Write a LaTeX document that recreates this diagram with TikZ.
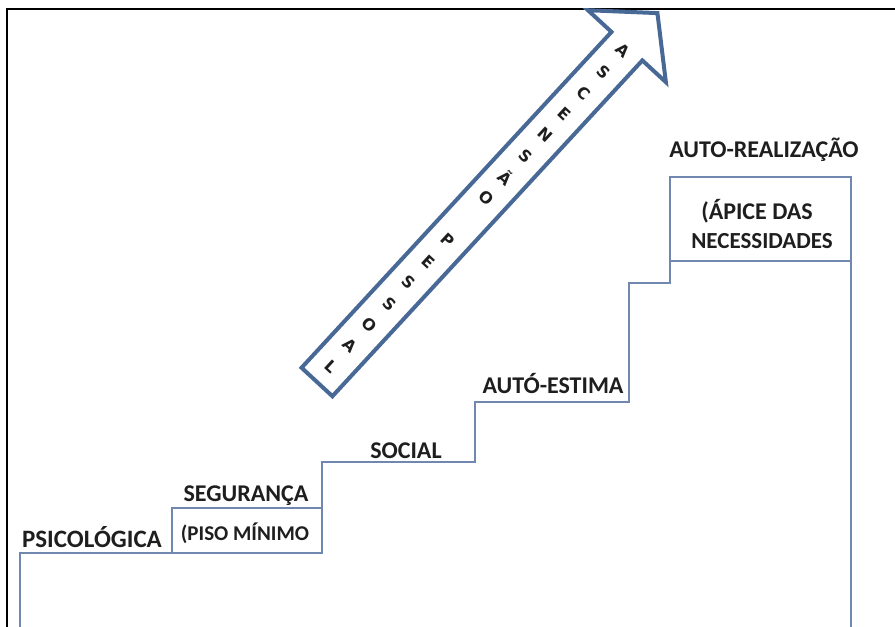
\documentclass[tikz,border=0pt]{standalone}
\usepackage{fontspec}
\setmainfont{Carlito}
\newfontfamily\climbfont{DejaVu Sans}
\usepackage{xcolor}
\definecolor{arrowblue}{RGB}{72,104,150}
\definecolor{stairblue}{RGB}{112,136,176}
\definecolor{labelgray}{RGB}{30,30,30}

\begin{document}
\begin{tikzpicture}[x=1pt, y=-1pt,
  frame/.style={line width=2.6pt, draw=black},
  stair/.style={line width=1.3pt, draw=stairblue},
  lbl/.style={anchor=base, inner sep=0pt, font=\fontsize{#1}{#1}\selectfont\bfseries, text=labelgray},
  lbl/.default=24,
  climb/.style={line width=4pt, draw=arrowblue, fill=white, line join=miter},
  letter/.style={inner sep=0pt, font=\climbfont\fontsize{16}{18}\selectfont\bfseries, text=labelgray, rotate=-42.7}
]
\useasboundingbox (0,0) rectangle (895,627);
\draw[frame] (7,627) -- (7,9) -- (895,9);

\draw[stair] (20,627) -- (20,553) -- (322,553) -- (322,462) -- (475,462) -- (475,402)
  -- (629,402) -- (629,283) -- (670,283) -- (670,177) -- (851,177) -- (851,627);
\draw[stair] (172,553) -- (172,508) -- (322,508);
\draw[stair] (670,261) -- (851,261);

\node[lbl=25] (psico) at (92,547) {PSICOLÓGICA};
\node[lbl] (segur) at (246,501) {SEGURANÇA};
\node[lbl=21] (piso) at (245,540) {(PISO MÍNIMO};
\node[lbl] (social) at (406,458) {SOCIAL};
\node[lbl] (estima) at (553,393) {AUTÓ-ESTIMA};
\node[lbl] (realiz) at (764,157) {AUTO-REALIZAÇÃO};
\node[lbl] (apice) at (757,219) {(ÁPICE DAS};
\node[lbl=23] (necess) at (762,248) {NECESSIDADES};

\begin{scope}[shift={(317,382)}, rotate=47.3]
\draw[climb] (0,-21) -- (457,-21) -- (457,-53) -- (502,0) -- (457,53) -- (457,21) -- (0,21) -- cycle;
\foreach \ch/\k in {A/0,S/1,C/2,E/3,N/4,S/5,Ã/6,O/7,P/9,E/10,S/11,S/12,O/13,A/14,L/15}
  \node[letter] (asc-\k) at ({451-\k*28.7},0) {\ch};
\end{scope}
\end{tikzpicture}
\end{document}
